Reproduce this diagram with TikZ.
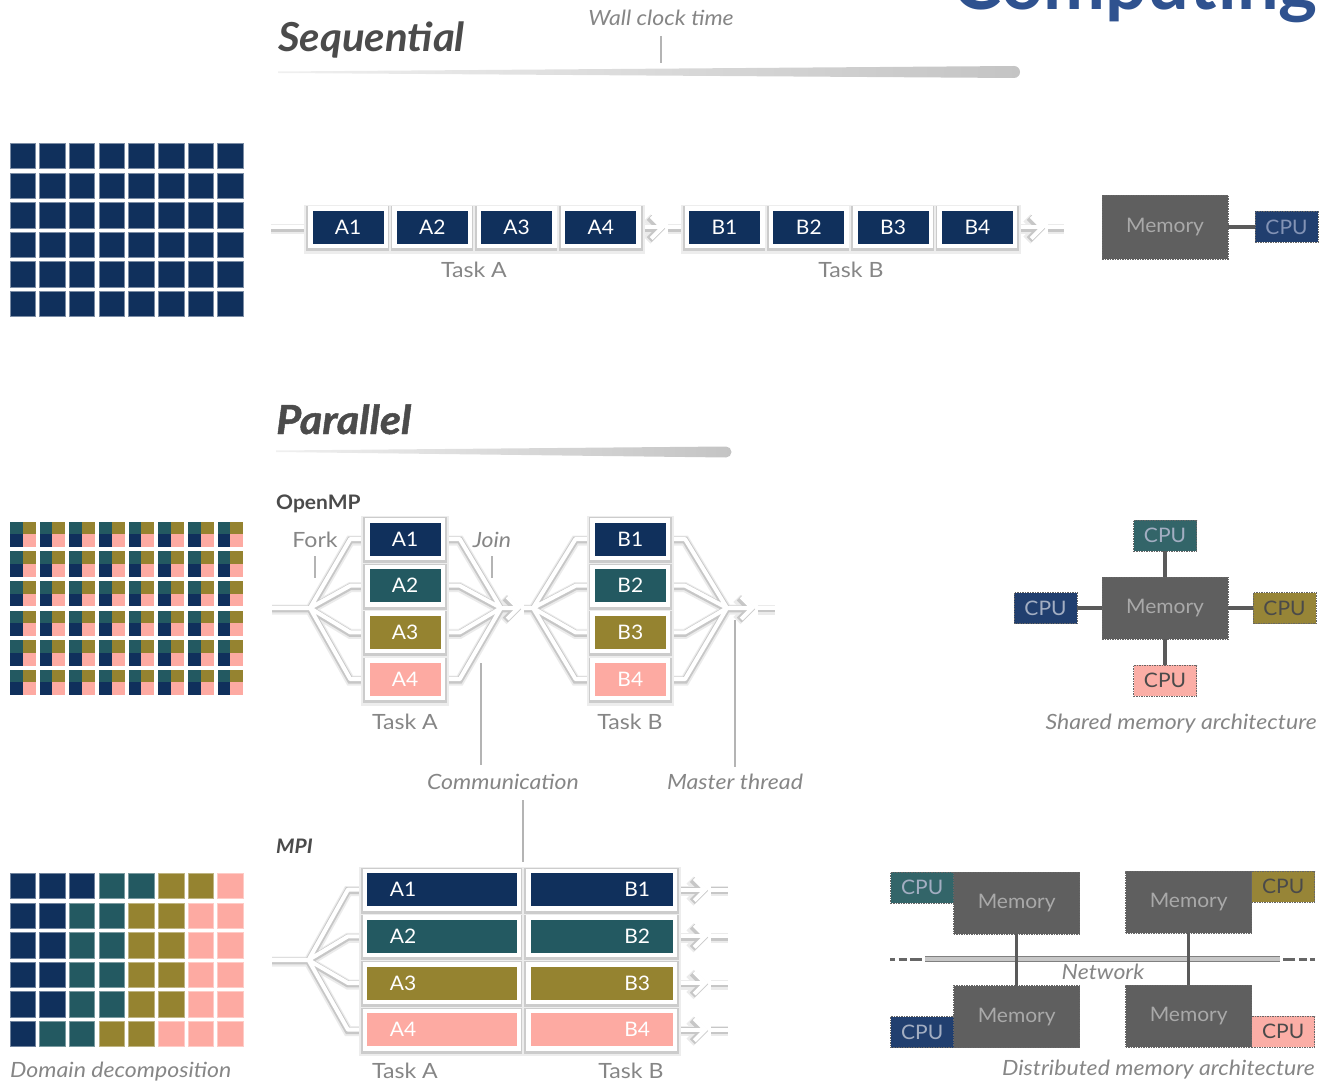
\documentclass[tikz,border=0pt]{standalone}
\usepackage{fontspec}
\setmainfont{Lato}
\newfontfamily\labelfamily{Lato}[FakeStretch=1.1]
\newfontfamily\boxfamily{Lato}[FakeStretch=1.05]
\newfontfamily\headfamily{Lato}[FakeStretch=1.05]
\newfontfamily\heavyfamily{Lato}[FakeStretch=1.08, FakeBold=1.2]
\usetikzlibrary{arrows.meta, positioning}

\definecolor{tasknavy}{HTML}{10305C}
\definecolor{taskteal}{HTML}{235961}
\definecolor{taskolive}{HTML}{958330}
\definecolor{taskpink}{HTML}{FDAAA2}
\definecolor{cpunavy}{HTML}{213F6F}
\definecolor{cputeal}{HTML}{336569}
\definecolor{cpuolive}{HTML}{978537}
\definecolor{cpupink}{HTML}{FBAEA6}
\definecolor{memfill}{HTML}{5F5F5F}
\definecolor{memtext}{HTML}{A9A9A9}
\definecolor{cpulighttext}{HTML}{A3AEC2}
\definecolor{seqcputext}{HTML}{8393B5}
\definecolor{cpudarktext}{HTML}{4A4A4A}
\definecolor{linkgray}{HTML}{5A5A5A}
\definecolor{headgray}{HTML}{4B4B4B}
\definecolor{labelgray}{HTML}{868686}
\definecolor{tickgray}{HTML}{B4B4B4}
\definecolor{bargray}{HTML}{C4C4C4}
\definecolor{titleblue}{HTML}{2F528F}

\pgfdeclarelayer{wires}
\pgfsetlayers{wires,main}

\newcommand{\boxfont}{\boxfamily\fontsize{20}{20}\selectfont}
\newcommand{\labelfont}{\labelfamily\fontsize{21}{21}\selectfont}

\begin{document}
\begin{tikzpicture}[
    x=1pt, y=-1pt,
    node distance=9.2pt and 8.8pt
]
\tikzset{
    task/.style = {draw=white, line width=4.5pt, outer sep=0pt, inner sep=0pt,
                   minimum width=75.5pt, minimum height=37.5pt, text=white, font=\boxfont,
                   preaction={draw=black!7, line width=12pt, transform canvas={yshift=-2pt}},
                   preaction={draw=black!20, line width=8pt, transform canvas={yshift=-1.2pt}}},
    mtaskA/.style = {task, inner xsep=25pt, text width=103.8pt, align=left},
    mtaskB/.style = {task, inner xsep=25pt, text width=96.8pt, align=right},
    wire/.style = {draw=white, line width=4pt, line join=round,
                   preaction={draw=black!8, line width=10pt, transform canvas={yshift=-1.5pt}},
                   preaction={draw=black!22, line width=6.8pt, transform canvas={yshift=-1pt}}},
    chevron/.style = {wire, -{Straight Barb[length=11pt, width=22pt]}},
    mem/.style = {draw=black!60, dash pattern=on 1.5pt off 1pt, line width=0.8pt, fill=memfill,
                  outer sep=0pt, inner sep=0pt, minimum width=126pt, minimum height=62pt,
                  text=memtext, font=\boxfont},
    cpu/.style = {draw=black!60, dash pattern=on 1.5pt off 1pt, line width=0.8pt,
                  outer sep=0pt, inner sep=0pt, minimum width=63pt, minimum height=31pt,
                  text=cpulighttext, font=\boxfont},
    link/.style = {draw=linkgray, line width=3.5pt},
    rail/.style = {draw=black!50, line width=1pt, double=black!22, double distance=3.5pt},
    netdash/.style = {draw=black!60, line width=3pt,
                      dash pattern=on 5pt off 3.5pt on 8pt off 3.5pt on 14pt off 0pt},
    tick/.style = {draw=tickgray, line width=1.2pt},
    lbl/.style = {text=labelgray, font=\labelfont, anchor=base, inner sep=0pt},
    note/.style = {lbl, font=\labelfont\itshape},
    head/.style = {text=headgray, anchor=base west, inner sep=0pt}
}

\useasboundingbox (0,0) rectangle (1330,1083);
\clip (0,0) rectangle (1330,1083);

% Title, cut by the top edge
\node[anchor=base east, inner sep=0pt, text=titleblue,
      font=\fontsize{74}{74}\selectfont\bfseries] (title) at (1318,10) {Computing};

% Sequential header
\node[head, font=\headfamily\fontsize{40}{40}\selectfont\bfseries\itshape] (seqhead) at (278,52) {Sequential};
\shade[left color=black!6, middle color=bargray, right color=bargray]
    (278,71.5) -- (1014,66) arc[start angle=-90, end angle=90, radius=6] -- (278,73) -- cycle;
\node[note] (wallclock) at (661,26) {Wall clock time};
\coordinate (wallTick) at (661,63);
\draw[tick] ([yshift=-10pt]wallclock.base) -- (wallTick);

% Sequential grid
\foreach \i in {0,...,7}
    \foreach \j in {0,...,5}
        \filldraw[fill=tasknavy, draw=tasknavy!55!white, line width=0.7pt]
            ({10+29.67*\i},{143.3+29.6*\j}) rectangle ++(25.5,25.5);

% Sequential tasks
\node[task, fill=tasknavy] (sA1) at (348,227.5) {A1};
\node[task, fill=tasknavy, right=of sA1] (sA2) {A2};
\node[task, fill=tasknavy, right=of sA2] (sA3) {A3};
\node[task, fill=tasknavy, right=of sA3] (sA4) {A4};
\node[task, fill=tasknavy] (sB1) at (724.5,227.5) {B1};
\node[task, fill=tasknavy, right=of sB1] (sB2) {B2};
\node[task, fill=tasknavy, right=of sB2] (sB3) {B3};
\node[task, fill=tasknavy, right=of sB3] (sB4) {B4};
\node[lbl] (sTaskA) at (474,277) {Task A};
\node[lbl] (sTaskB) at (851,277) {Task B};

\coordinate (sIn) at (271,227.5);
\coordinate (sTipA) at (665,227.5);
\coordinate (sGapA) at (668,227.5);
\coordinate (sTipB) at (1045,227.5);
\coordinate (sGapB) at (1048,227.5);
\coordinate (sOut) at (1064,227.5);
\begin{pgfonlayer}{wires}
    \draw[chevron] (sIn) -- (sA1) (sA1) -- (sA2) (sA2) -- (sA3) (sA3) -- (sA4) (sA4) -- (sTipA);
    \draw[chevron] (sGapA) -- (sB1) (sB1) -- (sB2) (sB2) -- (sB3) (sB3) -- (sB4) (sB4) -- (sTipB);
    \draw[wire] (sGapB) -- (sOut);
\end{pgfonlayer}

% Sequential memory
\node[mem, minimum height=64pt] (sMem) at (1165,227) {Memory};
\node[cpu, fill=cpunavy, text=seqcputext, right=27pt of sMem] (sCpu) {CPU};
\draw[link] (sMem) -- (sCpu);

% Parallel header
\node[head, font=\heavyfamily\fontsize{40}{40}\selectfont\bfseries\itshape] (parhead) at (276,434) {Parallel};
\shade[left color=black!6, middle color=bargray, right color=bargray]
    (276,450.5) -- (726,446.5) arc[start angle=-90, end angle=90, radius=5.5] -- (276,452) -- cycle;

% OpenMP grid
\foreach \i in {0,...,7}
    \foreach \j in {0,...,5} {
        \pgfmathsetmacro{\gx}{10+29.67*\i}
        \pgfmathsetmacro{\gy}{521.7+29.6*\j}
        \fill[taskteal] (\gx,\gy) rectangle ++(12.75,12.75);
        \fill[taskolive] (\gx+12.75,\gy) rectangle ++(12.75,12.75);
        \fill[tasknavy] (\gx,\gy+12.75) rectangle ++(12.75,12.75);
        \fill[taskpink] (\gx+12.75,\gy+12.75) rectangle ++(12.75,12.75);
    }

% OpenMP tasks
\node[head, font=\headfamily\fontsize{20}{20}\selectfont\bfseries] (omphead) at (276,509) {OpenMP};
\node[task, fill=tasknavy] (oA1) at (405,539) {A1};
\node[task, fill=taskteal, below=of oA1] (oA2) {A2};
\node[task, fill=taskolive, below=of oA2] (oA3) {A3};
\node[task, fill=taskpink, below=of oA3] (oA4) {A4};
\node[task, fill=tasknavy] (oB1) at (630.3,539) {B1};
\node[task, fill=taskteal, below=of oB1] (oB2) {B2};
\node[task, fill=taskolive, below=of oB2] (oB3) {B3};
\node[task, fill=taskpink, below=of oB3] (oB4) {B4};
\node[lbl] (oTaskA) at (405,729) {Task A};
\node[lbl] (oTaskB) at (630,729) {Task B};

\coordinate (oIn) at (272,608);
\coordinate (oForkA) at (310,608);
\coordinate (oJoinA) at (501,608);
\coordinate (oTipA) at (521,608);
\coordinate (oGapA) at (524,608);
\coordinate (oForkB) at (533,608);
\coordinate (oJoinB) at (727,608);
\coordinate (oTipB) at (755,608);
\coordinate (oGapB) at (758,608);
\coordinate (oOut) at (775,608);
\begin{pgfonlayer}{wires}
    \draw[chevron] (oIn) -- (oForkA)
        \foreach \k in {1,...,4} {
            (oForkA) -- ([xshift=-17pt]oA\k.west) -- (oA\k.west)
            (oA\k.east) -- ([xshift=17pt]oA\k.east) -- (oJoinA)
        }
        (oJoinA) -- (oTipA);
    \draw[chevron] (oGapA) -- (oForkB)
        \foreach \k in {1,...,4} {
            (oForkB) -- ([xshift=-17pt]oB\k.west) -- (oB\k.west)
            (oB\k.east) -- ([xshift=17pt]oB\k.east) -- (oJoinB)
        }
        (oJoinB) -- (oTipB);
    \draw[wire] (oGapB) -- (oOut);
\end{pgfonlayer}

% Fork, join, communication, master thread
\node[lbl] (forkLbl) at (315,547) {Fork};
\node[note] (joinLbl) at (492,547) {Join};
\coordinate (forkTick) at (315,578);
\coordinate (joinTick) at (492,578);
\draw[tick] ([yshift=-9pt]forkLbl.base) -- (forkTick);
\draw[tick] ([yshift=-9pt]joinLbl.base) -- (joinTick);
\node[note] (commLbl) at (503,789) {Communication};
\coordinate (commTop) at (481,663);
\coordinate (commBot) at (481,765);
\coordinate (commMpiTop) at (523,800);
\coordinate (commMpiBot) at (523,862);
\draw[tick] (commTop) -- (commBot);
\draw[tick] (commMpiTop) -- (commMpiBot);
\node[note] (masterLbl) at (735,789) {Master thread};
\coordinate (masterTop) at (735,620);
\draw[tick] (masterTop) -- ([yshift=22pt]masterLbl.base);

% Shared memory architecture
\node[mem] (shMem) at (1165,608) {Memory};
\node[cpu, fill=cputeal, above=26pt of shMem] (shCpuT) {CPU};
\node[cpu, fill=cpunavy, left=25pt of shMem] (shCpuL) {CPU};
\node[cpu, fill=cpuolive, text=cpudarktext, right=25pt of shMem] (shCpuR) {CPU};
\node[cpu, fill=cpupink, text=cpudarktext, below=26pt of shMem] (shCpuB) {CPU};
\draw[link] (shMem) -- (shCpuT);
\draw[link] (shMem) -- (shCpuL);
\draw[link] (shMem) -- (shCpuR);
\draw[link] (shMem) -- (shCpuB);
\node[note, anchor=base east] (shLbl) at (1317,729) {Shared memory architecture};

% Domain decomposition grid
\foreach \row [count=\j from 0] in {
        {tasknavy,tasknavy,tasknavy,taskteal,taskteal,taskolive,taskolive,taskpink},
        {tasknavy,tasknavy,taskteal,taskteal,taskolive,taskolive,taskpink,taskpink},
        {tasknavy,tasknavy,taskteal,taskteal,taskolive,taskolive,taskpink,taskpink},
        {tasknavy,tasknavy,taskteal,taskteal,taskolive,taskolive,taskpink,taskpink},
        {tasknavy,tasknavy,taskteal,taskteal,taskolive,taskolive,taskpink,taskpink},
        {tasknavy,taskteal,taskteal,taskolive,taskolive,taskpink,taskpink,taskpink}}
    \foreach \col [count=\i from 0] in \row
        \filldraw[fill=\col, draw=\col!60!white, line width=0.7pt]
            ({10+29.67*\i},{873.3+29.6*\j}) rectangle ++(25.5,25.5);
\node[note, anchor=base west] (domainLbl) at (10,1077) {Domain decomposition};

% MPI tasks
\node[head, font=\headfamily\fontsize{20}{20}\selectfont\bfseries\itshape] (mpihead) at (276,853) {MPI};
\node[mtaskA, fill=tasknavy] (mA1) at (441.85,889.6) {A1};
\node[mtaskA, fill=taskteal, below=of mA1] (mA2) {A2};
\node[mtaskA, fill=taskolive, below=of mA2] (mA3) {A3};
\node[mtaskA, fill=taskpink, below=of mA3] (mA4) {A4};
\node[mtaskB, fill=tasknavy, right=9.5pt of mA1] (mB1) {B1};
\node[mtaskB, fill=taskteal, right=9.5pt of mA2] (mB2) {B2};
\node[mtaskB, fill=taskolive, right=9.5pt of mA3] (mB3) {B3};
\node[mtaskB, fill=taskpink, right=9.5pt of mA4] (mB4) {B4};
\node[lbl] (mTaskA) at (405,1078) {Task A};
\node[lbl] (mTaskB) at (631,1078) {Task B};

\coordinate (mIn) at (272,960);
\coordinate (mFork) at (308.5,960);
\begin{pgfonlayer}{wires}
    \draw[wire] (mIn) -- (mFork)
        \foreach \k in {1,...,4} {
            (mFork) -- ([xshift=-17pt]mA\k.west) -- (mA\k.west)
        };
    \foreach \k in {1,...,4} {
        \draw[wire] (mA\k) -- (mB\k);
        \draw[chevron] (mB\k.east) -- ([xshift=33pt]mB\k.east);
        \draw[wire] ([xshift=36pt]mB\k.east) -- ([xshift=53pt]mB\k.east);
    }
\end{pgfonlayer}

% Distributed memory architecture
\coordinate (netL) at (925,959);
\coordinate (netR) at (1280,959);
\coordinate (netLL) at (890,959);
\coordinate (netRR) at (1315,959);
\draw[rail] (netL) -- (netR);
\draw[netdash] (netLL) -- ([xshift=-3pt]netL);
\draw[netdash] (netRR) -- ([xshift=3pt]netR);
\node[note] (netLbl) at (1103,979) {Network};

\node[mem] (dMemTL) at (1016.7,903) {Memory};
\node[mem] (dMemTR) at (1188.7,902) {Memory};
\node[mem] (dMemBL) at (1016.7,1016.7) {Memory};
\node[mem] (dMemBR) at (1188.7,1016.2) {Memory};
\node[cpu, fill=cputeal, below left=0pt and 0pt of dMemTL.north west] (dCpuTL) {CPU};
\node[cpu, fill=cpuolive, text=cpudarktext, below right=0pt and 0pt of dMemTR.north east] (dCpuTR) {CPU};
\node[cpu, fill=cpunavy, above left=0pt and 0pt of dMemBL.south west] (dCpuBL) {CPU};
\node[cpu, fill=cpupink, text=cpudarktext, above right=0pt and 0pt of dMemBR.south east] (dCpuBR) {CPU};
\draw[link] (dMemTL) -- (dMemBL);
\draw[link] (dMemTR) -- (dMemBR);
\node[note, anchor=base east] (distLbl) at (1315,1075) {Distributed memory architecture};

\end{tikzpicture}
\end{document}
